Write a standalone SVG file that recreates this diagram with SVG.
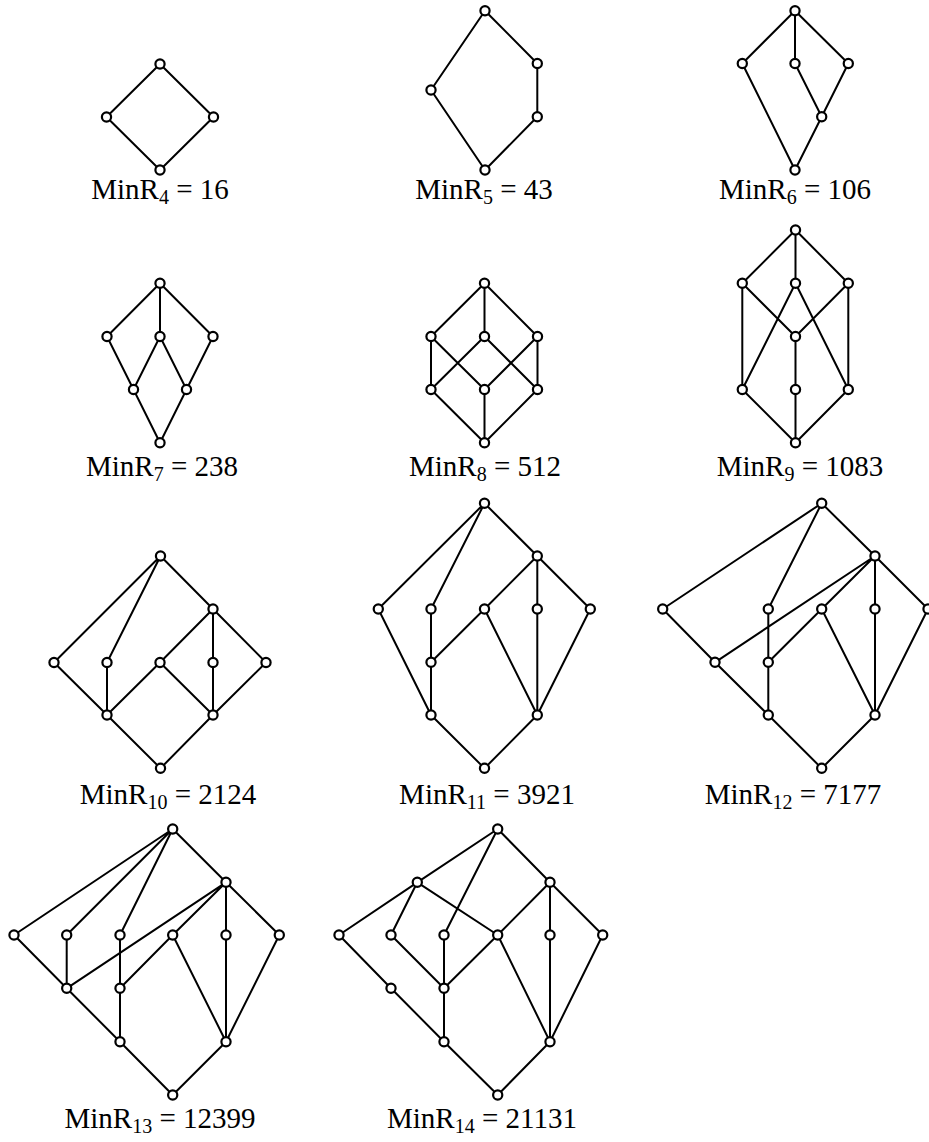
<svg xmlns="http://www.w3.org/2000/svg" width="929" height="1142" viewBox="0 0 929 1142">
<style>
.e{fill:none;stroke:#000;stroke-width:2;stroke-linejoin:round;stroke-linecap:round}
.n{fill:#fff;stroke:#000;stroke-width:2.2}
.lbl{font-family:"Liberation Serif","Times New Roman",serif;font-size:29px;fill:#000;text-anchor:middle}
.sub{font-size:20px}
</style>
<rect width="929" height="1142" fill="#fff"/>

<g id="connectors">
  <!-- MinR4 -->
  <path class="e" d="M160,64 L106.5,117 L160,170 L213.5,117 Z"/>
  <!-- MinR5 -->
  <path class="e" d="M485,10.7 L431,90 L485,170 L537.3,116.7 L537.3,63.5 Z"/>
  <!-- MinR6 -->
  <path class="e" d="M795,10.7 L742.3,63.5 L795,170 L821.7,116.7 L848.3,63.5 L795,10.7 L795,63.5 L821.7,116.7"/>
  <!-- MinR7 -->
  <path class="e" d="M160,283.3 L107,336.5 L133.5,389.5 L160,442.7 L186.5,389.5 L213,336.5 L160,283.3 L160,336.5 L133.5,389.5 M160,336.5 L186.5,389.5"/>
  <!-- MinR8 -->
  <path class="e" d="M484.5,283.3 L431,336.5 L431,389.5 L484.5,442.7 L537.5,389.5 L537.5,336.5 L484.5,283.3 L484.5,336.5 M431,336.5 L484.5,389.5 L537.5,336.5 M431,389.5 L484.5,336.5 L537.5,389.5 M484.5,389.5 L484.5,442.7"/>
  <!-- MinR9 -->
  <path class="e" d="M795.5,230 L742.3,283.3 L742.3,389.5 L795.5,442.7 L848.3,389.5 L848.3,283.3 L795.5,230 L795.5,283.3 M742.3,283.3 L795.5,336.5 L848.3,283.3 M742.3,389.5 L795.5,283.3 L848.3,389.5 M795.5,336.5 L795.5,442.7"/>
  <!-- MinR10 -->
  <path class="e" d="M160.5,556 L54,662.5 L107,715 L160.5,768.3 L213,715 L266,662.5 L213,609 L160.5,556 L107,662.5 L107,715 L160,662.5 L213,715 L213,609 M213,609 L160,662.5"/>
  <!-- MinR11 -->
  <path class="e" d="M484.5,503.3 L378.3,609 L431,715 L484.5,768.3 L537.3,715 L590.3,609 L537.3,556 L484.5,503.3 L431,609 L431,715 M431,662.3 L484.5,609 L537.3,556 L537.3,715 M484.5,609 L537.3,715"/>
  <!-- MinR12 -->
  <path class="e" d="M821.7,503.3 L662.7,609 L715,662.3 L768.3,715 L821.7,768.3 L875,715 L928,609 L875,556 L821.7,503.3 L768.3,609 L768.3,715 M715,662.3 L875,556 L821.7,609 L768.3,662.3 M875,556 L875,715 M821.7,609 L875,715"/>
  <!-- MinR13 -->
  <path class="e" d="M172.7,829 L14,935 L66.7,988.3 L120,1041.7 L172.7,1095 L226,1041.7 L279.3,935 L226,882.3 L172.7,829 L66.7,935 L66.7,988.3 L226,882.3 L172.7,935 L120,988.3 M172.7,829 L120,935 L120,1041.7 M226,882.3 L226,1041.7 M172.7,935 L226,1041.7"/>
  <!-- MinR14 -->
  <path class="e" d="M497.7,829 L417.3,882.3 L339,935 L391,988.3 L444,1041.7 L497.7,1095 L550,1041.7 L602.7,935 L550,882.3 L497.7,829 L444,935 L444,1041.7 M417.3,882.3 L391,935 L444,988.3 L497.7,935 L550,882.3 L550,1041.7 M417.3,882.3 L497.7,935 L550,1041.7"/>
</g>

<g id="MinR4">
  <circle class="n" cx="160" cy="64" r="4.6"/><circle class="n" cx="106.5" cy="117" r="4.6"/><circle class="n" cx="213.5" cy="117" r="4.6"/><circle class="n" cx="160" cy="170" r="4.6"/>
  <text class="lbl" x="160" y="199">MinR<tspan class="sub" dy="5">4</tspan><tspan dy="-5"> = 16</tspan></text>
</g>
<g id="MinR5">
  <circle class="n" cx="485" cy="10.7" r="4.6"/><circle class="n" cx="431" cy="90" r="4.6"/><circle class="n" cx="537.3" cy="63.5" r="4.6"/><circle class="n" cx="537.3" cy="116.7" r="4.6"/><circle class="n" cx="485" cy="170" r="4.6"/>
  <text class="lbl" x="484" y="199">MinR<tspan class="sub" dy="5">5</tspan><tspan dy="-5"> = 43</tspan></text>
</g>
<g id="MinR6">
  <circle class="n" cx="795" cy="10.7" r="4.6"/><circle class="n" cx="742.3" cy="63.5" r="4.6"/><circle class="n" cx="795" cy="63.5" r="4.6"/><circle class="n" cx="848.3" cy="63.5" r="4.6"/><circle class="n" cx="821.7" cy="116.7" r="4.6"/><circle class="n" cx="795" cy="170" r="4.6"/>
  <text class="lbl" x="795" y="199">MinR<tspan class="sub" dy="5">6</tspan><tspan dy="-5"> = 106</tspan></text>
</g>
<g id="MinR7">
  <circle class="n" cx="160" cy="283.3" r="4.6"/><circle class="n" cx="107" cy="336.5" r="4.6"/><circle class="n" cx="160" cy="336.5" r="4.6"/><circle class="n" cx="213" cy="336.5" r="4.6"/><circle class="n" cx="133.5" cy="389.5" r="4.6"/><circle class="n" cx="186.5" cy="389.5" r="4.6"/><circle class="n" cx="160" cy="442.7" r="4.6"/>
  <text class="lbl" x="162" y="476">MinR<tspan class="sub" dy="5">7</tspan><tspan dy="-5"> = 238</tspan></text>
</g>
<g id="MinR8">
  <circle class="n" cx="484.5" cy="283.3" r="4.6"/><circle class="n" cx="431" cy="336.5" r="4.6"/><circle class="n" cx="484.5" cy="336.5" r="4.6"/><circle class="n" cx="537.5" cy="336.5" r="4.6"/><circle class="n" cx="431" cy="389.5" r="4.6"/><circle class="n" cx="484.5" cy="389.5" r="4.6"/><circle class="n" cx="537.5" cy="389.5" r="4.6"/><circle class="n" cx="484.5" cy="442.7" r="4.6"/>
  <text class="lbl" x="485" y="476">MinR<tspan class="sub" dy="5">8</tspan><tspan dy="-5"> = 512</tspan></text>
</g>
<g id="MinR9">
  <circle class="n" cx="795.5" cy="230" r="4.6"/><circle class="n" cx="742.3" cy="283.3" r="4.6"/><circle class="n" cx="795.5" cy="283.3" r="4.6"/><circle class="n" cx="848.3" cy="283.3" r="4.6"/><circle class="n" cx="795.5" cy="336.5" r="4.6"/><circle class="n" cx="742.3" cy="389.5" r="4.6"/><circle class="n" cx="795.5" cy="389.5" r="4.6"/><circle class="n" cx="848.3" cy="389.5" r="4.6"/><circle class="n" cx="795.5" cy="442.7" r="4.6"/>
  <text class="lbl" x="800" y="476">MinR<tspan class="sub" dy="5">9</tspan><tspan dy="-5"> = 1083</tspan></text>
</g>
<g id="MinR10">
  <circle class="n" cx="160.5" cy="556" r="4.6"/><circle class="n" cx="213" cy="609" r="4.6"/><circle class="n" cx="54" cy="662.5" r="4.6"/><circle class="n" cx="107" cy="662.5" r="4.6"/><circle class="n" cx="160" cy="662.5" r="4.6"/><circle class="n" cx="213" cy="662.5" r="4.6"/><circle class="n" cx="266" cy="662.5" r="4.6"/><circle class="n" cx="107" cy="715" r="4.6"/><circle class="n" cx="213" cy="715" r="4.6"/><circle class="n" cx="160.5" cy="768.3" r="4.6"/>
  <text class="lbl" x="168" y="804">MinR<tspan class="sub" dy="5">10</tspan><tspan dy="-5"> = 2124</tspan></text>
</g>
<g id="MinR11">
  <circle class="n" cx="484.5" cy="503.3" r="4.6"/><circle class="n" cx="537.3" cy="556" r="4.6"/><circle class="n" cx="378.3" cy="609" r="4.6"/><circle class="n" cx="431" cy="609" r="4.6"/><circle class="n" cx="484.5" cy="609" r="4.6"/><circle class="n" cx="537.3" cy="609" r="4.6"/><circle class="n" cx="590.3" cy="609" r="4.6"/><circle class="n" cx="431" cy="662.3" r="4.6"/><circle class="n" cx="431" cy="715" r="4.6"/><circle class="n" cx="537.3" cy="715" r="4.6"/><circle class="n" cx="484.5" cy="768.3" r="4.6"/>
  <text class="lbl" x="487" y="804">MinR<tspan class="sub" dy="5">11</tspan><tspan dy="-5"> = 3921</tspan></text>
</g>
<g id="MinR12">
  <circle class="n" cx="821.7" cy="503.3" r="4.6"/><circle class="n" cx="875" cy="556" r="4.6"/><circle class="n" cx="662.7" cy="609" r="4.6"/><circle class="n" cx="768.3" cy="609" r="4.6"/><circle class="n" cx="821.7" cy="609" r="4.6"/><circle class="n" cx="875" cy="609" r="4.6"/><circle class="n" cx="928" cy="609" r="4.6"/><circle class="n" cx="715" cy="662.3" r="4.6"/><circle class="n" cx="768.3" cy="662.3" r="4.6"/><circle class="n" cx="768.3" cy="715" r="4.6"/><circle class="n" cx="875" cy="715" r="4.6"/><circle class="n" cx="821.7" cy="768.3" r="4.6"/>
  <text class="lbl" x="793" y="804">MinR<tspan class="sub" dy="5">12</tspan><tspan dy="-5"> = 7177</tspan></text>
</g>
<g id="MinR13">
  <circle class="n" cx="172.7" cy="829" r="4.6"/><circle class="n" cx="226" cy="882.3" r="4.6"/><circle class="n" cx="14" cy="935" r="4.6"/><circle class="n" cx="66.7" cy="935" r="4.6"/><circle class="n" cx="120" cy="935" r="4.6"/><circle class="n" cx="172.7" cy="935" r="4.6"/><circle class="n" cx="226" cy="935" r="4.6"/><circle class="n" cx="279.3" cy="935" r="4.6"/><circle class="n" cx="66.7" cy="988.3" r="4.6"/><circle class="n" cx="120" cy="988.3" r="4.6"/><circle class="n" cx="120" cy="1041.7" r="4.6"/><circle class="n" cx="226" cy="1041.7" r="4.6"/><circle class="n" cx="172.7" cy="1095" r="4.6"/>
  <text class="lbl" x="160" y="1128">MinR<tspan class="sub" dy="5">13</tspan><tspan dy="-5"> = 12399</tspan></text>
</g>
<g id="MinR14">
  <circle class="n" cx="497.7" cy="829" r="4.6"/><circle class="n" cx="417.3" cy="882.3" r="4.6"/><circle class="n" cx="550" cy="882.3" r="4.6"/><circle class="n" cx="339" cy="935" r="4.6"/><circle class="n" cx="391" cy="935" r="4.6"/><circle class="n" cx="444" cy="935" r="4.6"/><circle class="n" cx="497.7" cy="935" r="4.6"/><circle class="n" cx="550" cy="935" r="4.6"/><circle class="n" cx="602.7" cy="935" r="4.6"/><circle class="n" cx="391" cy="988.3" r="4.6"/><circle class="n" cx="444" cy="988.3" r="4.6"/><circle class="n" cx="444" cy="1041.7" r="4.6"/><circle class="n" cx="550" cy="1041.7" r="4.6"/><circle class="n" cx="497.7" cy="1095" r="4.6"/>
  <text class="lbl" x="482" y="1128">MinR<tspan class="sub" dy="5">14</tspan><tspan dy="-5"> = 21131</tspan></text>
</g>
</svg>
